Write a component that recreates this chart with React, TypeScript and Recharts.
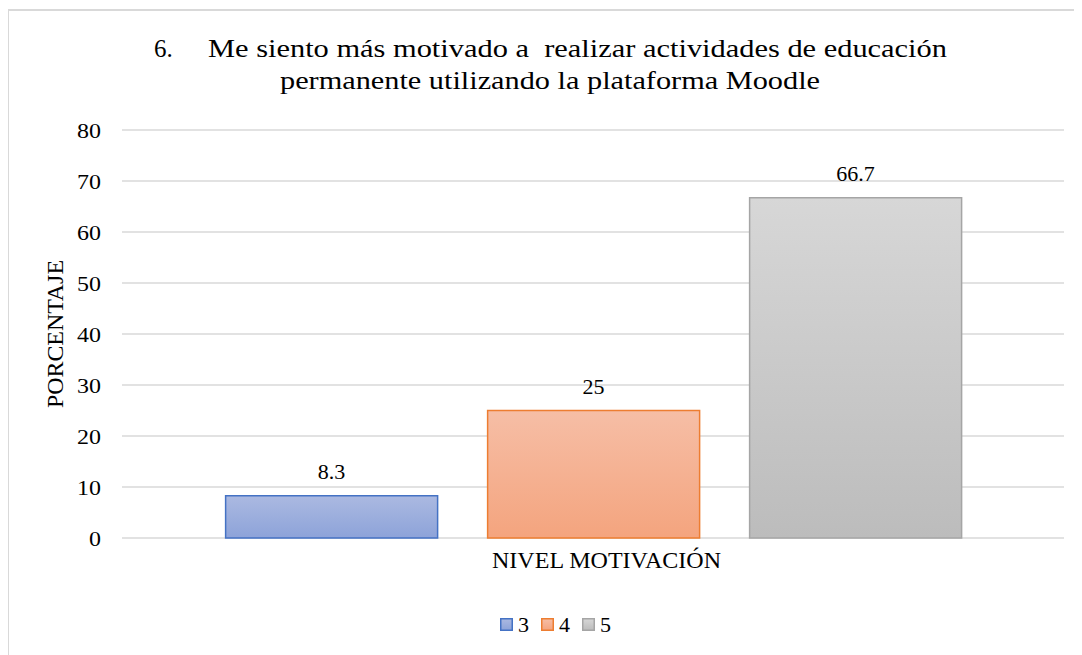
import React from 'react';
import { BarChart, Bar, XAxis, YAxis, CartesianGrid, LabelList } from 'recharts';

const categories = ['NIVEL MOTIVACIÓN'];
const seriesNames = ['3', '4', '5'];
const values3 = [8.3];
const values4 = [25];
const values5 = [66.7];
const yTicks = [0, 10, 20, 30, 40, 50, 60, 70, 80];
const titleNumber = '6.';
const titleLine1 = 'Me siento más motivado a  realizar actividades de educación';
const titleLine2 = 'permanente utilizando la plataforma Moodle';
const yAxisTitle = 'PORCENTAJE';

const data = categories.map((c, i) => ({ name: c, s3: values3[i], s4: values4[i], s5: values5[i] }));

const FONT = '"Liberation Serif", "DejaVu Serif", serif';

const series = [
  { key: 's3', name: seriesNames[0], grad: 'g3', stroke: '#4472C4', top: '#ABB9E1', bottom: '#8DA3D9' },
  { key: 's4', name: seriesNames[1], grad: 'g4', stroke: '#ED7D31', top: '#F6BEA6', bottom: '#F4A47E' },
  { key: 's5', name: seriesNames[2], grad: 'g5', stroke: '#A5A5A5', top: '#D7D7D7', bottom: '#BCBCBC' },
];

const YTick = (props: any) => {
  const { x, y, payload } = props;
  return (
    <text
      x={0}
      y={0}
      transform={`translate(${x},${y}) scale(1.09,1)`}
      textAnchor="end"
      dy="0.355em"
      fontSize={22}
      fontFamily={FONT}
      fill="#000"
    >
      {payload.value}
    </text>
  );
};

const legendX = [492, 533, 574];

export default function App() {
  return (
    <div style={{ position: 'relative', width: 1074, height: 647, fontFamily: FONT, overflow: 'hidden' }}>
      <div style={{ position: 'absolute', left: -1, top: 1, width: 1200, height: 800, borderLeft: '2px solid #D9D9D9', borderTop: '2px solid #D9D9D9', boxSizing: 'border-box' }} />
      <div style={{ position: 'absolute', left: 0, top: 0 }}>
        <BarChart
          width={1074}
          height={647}
          data={data}
          margin={{ top: 122, right: 18, bottom: 117, left: 0 }}
          barCategoryGap="11%"
          barGap={50}
        >
          <defs>
            {series.map((s) => (
              <linearGradient key={s.grad} id={s.grad} x1="0" y1="0" x2="0" y2="1">
                <stop offset="0%" stopColor={s.top} />
                <stop offset="100%" stopColor={s.bottom} />
              </linearGradient>
            ))}
          </defs>
          <CartesianGrid vertical={false} stroke="#D9D9D9" strokeWidth={1.5} />
          <XAxis dataKey="name" tick={false} tickLine={false} axisLine={{ stroke: '#D9D9D9', strokeWidth: 1.5 }} height={0} />
          <YAxis
            domain={[0, 80]}
            ticks={yTicks}
            width={114}
            axisLine={false}
            tickLine={false}
            tickSize={0}
            tickMargin={21}
            tick={<YTick />}
          />
          {series.map((s) => (
            <Bar key={s.key} dataKey={s.key} name={s.name} fill={`url(#${s.grad})`} stroke={s.stroke} strokeWidth={1.5} isAnimationActive={false}>
              <LabelList dataKey={s.key} position="top" offset={17} style={{ fill: '#000', fontSize: 22, fontFamily: FONT }} />
            </Bar>
          ))}
        </BarChart>
      </div>
      <svg width={1074} height={647} style={{ position: 'absolute', left: 0, top: 0, pointerEvents: 'none' }}>
        <defs>
          {series.map((s) => (
            <linearGradient key={s.grad} id={`l${s.grad}`} x1="0" y1="0" x2="0" y2="1">
              <stop offset="0%" stopColor={s.top} />
              <stop offset="100%" stopColor={s.bottom} />
            </linearGradient>
          ))}
        </defs>
        <g fontFamily={FONT} fill="#000">
          <text x={146} y={49} fontSize={25}>{titleNumber}</text>
          <text x={200} y={49} fontSize={25} textLength={739} lengthAdjust="spacingAndGlyphs" style={{ whiteSpace: 'pre' }}>{titleLine1}</text>
          <text x={272} y={81} fontSize={25} textLength={540} lengthAdjust="spacingAndGlyphs">{titleLine2}</text>
          <text x={484} y={560} fontSize={23.5} textLength={229} lengthAdjust="spacingAndGlyphs">{categories[0]}</text>
          <text transform="translate(55,326) rotate(-90)" x={0} y={0} textAnchor="middle" fontSize={24} textLength={148} lengthAdjust="spacingAndGlyphs">{yAxisTitle}</text>
          {series.map((s, i) => (
            <g key={s.key}>
              <rect x={legendX[i] + 0.75} y={610.75} width={11.5} height={11.5} fill={`url(#l${s.grad})`} stroke={s.stroke} strokeWidth={1.5} />
              <text x={legendX[i] + 18} y={624} fontSize={22}>{s.name}</text>
            </g>
          ))}
        </g>
      </svg>
    </div>
  );
}
